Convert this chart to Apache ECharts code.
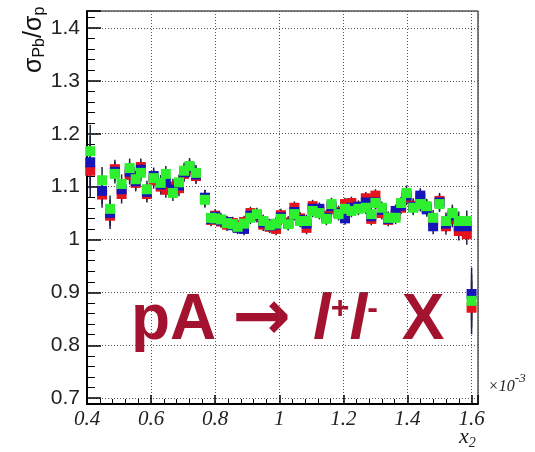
<!DOCTYPE html>
<html>
<head>
<meta charset="utf-8">
<script src="https://cdn.jsdelivr.net/npm/echarts@6/dist/echarts.min.js"></script>
<style>
  html, body { margin: 0; padding: 0; background: #fff; }
  #chart { width: 535px; height: 452px; }
</style>
</head>
<body>
<div id="chart"></div>
<script>
// x2 bin centres (units of 1e-3)
const x2 = [
  0.41, 0.447, 0.472, 0.487, 0.508, 0.533, 0.552, 0.568, 0.587, 0.608,
  0.63, 0.646, 0.668, 0.687, 0.703, 0.72, 0.74, 0.768, 0.787, 0.80,
  0.818, 0.837, 0.855, 0.87, 0.89, 0.91, 0.93, 0.95, 0.97, 0.99,
  1.005, 1.028, 1.047, 1.065, 1.085, 1.104, 1.125, 1.147, 1.163, 1.185,
  1.205, 1.225, 1.247, 1.27, 1.287, 1.30, 1.32, 1.34, 1.363, 1.38,
  1.397, 1.418, 1.44, 1.46, 1.48, 1.50, 1.52, 1.54, 1.56, 1.585,
  1.60
];

const ratioRed = [
  1.130, 1.085, 1.045, 1.133, 1.086, 1.122, 1.107, 1.137, 1.086, 1.112,
  1.100, 1.094, 1.100, 1.097, 1.124, 1.133, 1.120, 1.078, 1.037, 1.045,
  1.034, 1.028, 1.031, 1.026, 1.033, 1.050, 1.044, 1.028, 1.024, 1.020,
  1.046, 1.032, 1.060, 1.040, 1.022, 1.063, 1.053, 1.044, 1.058, 1.052,
  1.067, 1.069, 1.060, 1.078, 1.039, 1.083, 1.050, 1.037, 1.046, 1.060,
  1.079, 1.064, 1.079, 1.060, 1.036, 1.073, 1.025, 1.039, 1.016, 1.010,
  0.871
];

const ratioBlue = [
  1.146, 1.092, 1.050, 1.128, 1.095, 1.128, 1.110, 1.132, 1.090, 1.120,
  1.104, 1.108, 1.094, 1.102, 1.127, 1.136, 1.123, 1.079, 1.039, 1.043,
  1.036, 1.033, 1.027, 1.022, 1.020, 1.045, 1.046, 1.032, 1.026, 1.028,
  1.042, 1.030, 1.052, 1.037, 1.030, 1.058, 1.058, 1.041, 1.063, 1.050,
  1.040, 1.060, 1.062, 1.070, 1.044, 1.070, 1.056, 1.039, 1.054, 1.064,
  1.083, 1.062, 1.083, 1.057, 1.025, 1.070, 1.030, 1.045, 1.025, 1.025,
  0.897
];

const ratioGreen = [
  1.167, 1.112, 1.058, 1.124, 1.105, 1.135, 1.114, 1.126, 1.095, 1.116,
  1.107, 1.124, 1.088, 1.108, 1.130, 1.139, 1.126, 1.075, 1.041, 1.040,
  1.038, 1.031, 1.029, 1.024, 1.030, 1.041, 1.048, 1.035, 1.027, 1.030,
  1.039, 1.029, 1.048, 1.035, 1.035, 1.054, 1.050, 1.039, 1.067, 1.048,
  1.058, 1.054, 1.058, 1.060, 1.048, 1.069, 1.060, 1.041, 1.041, 1.069,
  1.088, 1.060, 1.067, 1.063, 1.041, 1.067, 1.035, 1.050, 1.035, 1.035,
  0.884
];

// half-length of the vertical error bars
const errors = [
  0.050, 0.025, 0.025, 0.018, 0.018, 0.018, 0.016, 0.016, 0.016, 0.016,
  0.015, 0.015, 0.015, 0.015, 0.015, 0.015, 0.015, 0.015, 0.012, 0.012,
  0.012, 0.012, 0.012, 0.012, 0.012, 0.012, 0.012, 0.012, 0.012, 0.012,
  0.012, 0.012, 0.012, 0.012, 0.012, 0.012, 0.012, 0.012, 0.012, 0.012,
  0.012, 0.012, 0.012, 0.012, 0.012, 0.012, 0.012, 0.012, 0.012, 0.012,
  0.014, 0.014, 0.014, 0.014, 0.015, 0.015, 0.016, 0.016, 0.018, 0.020,
  0.050
];

const xTicks = [0.4, 0.6, 0.8, 1, 1.2, 1.4, 1.6];
const yTicks = [0.7, 0.8, 0.9, 1, 1.1, 1.2, 1.3, 1.4];

const colors = { red: '#e5141c', blue: '#1616b8', green: '#2ef02e' };
const titleRed = '#a3122f';

const isTick = (list, v) => list.some((t) => Math.abs(t - v) < 1e-6);

const errorBars = (values, color) => ({
  type: 'custom',
  z: 2,
  silent: true,
  data: x2.map((x, i) => [x, values[i] - errors[i], values[i] + errors[i]]),
  renderItem: (params, api) => {
    const lo = api.coord([api.value(0), api.value(1)]);
    const hi = api.coord([api.value(0), api.value(2)]);
    return {
      type: 'line',
      shape: { x1: lo[0], y1: lo[1], x2: hi[0], y2: hi[1] },
      style: { stroke: color, lineWidth: 1.5 },
    };
  },
});

const markers = (values, color) => ({
  type: 'scatter',
  z: 3,
  symbol: 'rect',
  symbolSize: [10, 10],
  itemStyle: { color: color, opacity: 1 },
  data: x2.map((x, i) => [x, values[i]]),
});

const chart = echarts.init(document.getElementById('chart'));

chart.setOption({
  animation: false,
  backgroundColor: '#fff',
  grid: {
    left: 87, right: 57, top: 11, bottom: 48,
    show: true, borderColor: '#000', borderWidth: 1,
  },
  xAxis: {
    type: 'value',
    min: 0.4, max: 1.62, interval: 0.2,
    axisLine: { lineStyle: { color: '#000', width: 2 } },
    axisTick: { inside: true, length: 9, lineStyle: { color: '#000', width: 1.5 } },
    minorTick: { show: true, splitNumber: 5, length: 5, lineStyle: { color: '#000', width: 1 } },
    splitLine: { show: true, lineStyle: { color: '#555', width: 1, type: [1, 2] } },
    axisLabel: {
      margin: 5,
      fontFamily: 'Liberation Serif', fontStyle: 'italic', fontSize: 21, color: '#222',
      formatter: (v) => (isTick(xTicks, v) ? String(+v.toFixed(1)) : ''),
    },
  },
  yAxis: {
    type: 'value',
    min: 0.689, max: 1.432, splitNumber: 7,
    axisLine: { lineStyle: { color: '#000', width: 2 } },
    axisTick: { inside: true, length: 14, lineStyle: { color: '#000', width: 1.5 } },
    minorTick: { show: true, splitNumber: 5, length: 8, lineStyle: { color: '#000', width: 1 } },
    splitLine: { show: true, lineStyle: { color: '#555', width: 1, type: [1, 2] } },
    axisLabel: {
      margin: 7,
      fontFamily: 'Liberation Sans', fontSize: 21, color: '#222',
      formatter: (v) => (isTick(yTicks, v) ? String(+v.toFixed(1)) : ''),
    },
  },
  series: [
    errorBars(ratioRed, '#2a1a40'),
    markers(ratioRed, colors.red),
    errorBars(ratioBlue, '#1a1a50'),
    markers(ratioBlue, colors.blue),
    errorBars(ratioGreen, '#1a2a3a'),
    markers(ratioGreen, colors.green),
  ],
  graphic: [
    {
      type: 'text',
      x: 21, y: 73,
      rotation: Math.PI / 2,
      style: {
        text: '{s|σ}{sub|Pb}{s|/σ}{sub|p}',
        fill: '#111',
        rich: {
          s: { fontFamily: 'Liberation Sans', fontSize: 25, fill: '#111' },
          sub: { fontFamily: 'Liberation Sans', fontSize: 16, fill: '#111', padding: [11, 0, 0, 0] },
        },
      },
    },
    {
      type: 'text',
      x: 488, y: 371,
      style: {
        text: '{a|×10}{b|-3}',
        rich: {
          a: { fontFamily: 'Liberation Serif', fontStyle: 'italic', fontSize: 16, fill: '#222', padding: [8, 0, 0, 0] },
          b: { fontFamily: 'Liberation Serif', fontStyle: 'italic', fontSize: 13, fill: '#222', padding: [0, 0, 8, 0] },
        },
      },
    },
    {
      type: 'text',
      x: 459, y: 424,
      style: {
        text: '{a|x}{b|2}',
        rich: {
          a: { fontFamily: 'Liberation Serif', fontStyle: 'italic', fontSize: 22, fill: '#222' },
          b: { fontFamily: 'Liberation Serif', fontStyle: 'italic', fontSize: 14, fill: '#222', padding: [12, 0, 0, 0] },
        },
      },
    },
    {
      type: 'text',
      x: 131, y: 286,
      style: {
        text: '{b|pA}{arr|→}{i|l}{sup|+}{i|l}{sup|-}{x|X}',
        rich: {
          b: { fontFamily: 'Liberation Sans', fontWeight: 'bold', fontSize: 64, fill: titleRed },
          arr: { fontFamily: 'DejaVu Sans', fontWeight: 'bold', fontSize: 70, fill: titleRed, padding: [0, 22, 0, 16] },
          i: { fontFamily: 'Liberation Sans', fontWeight: 'bold', fontStyle: 'italic', fontSize: 64, fill: titleRed },
          sup: { fontFamily: 'Liberation Sans', fontWeight: 'bold', fontSize: 32, fill: titleRed, padding: [0, 0, 24, 0] },
          x: { fontFamily: 'Liberation Sans', fontWeight: 'bold', fontSize: 64, fill: titleRed, padding: [0, 0, 0, 24] },
        },
      },
    },
  ],
});
</script>
</body>
</html>
